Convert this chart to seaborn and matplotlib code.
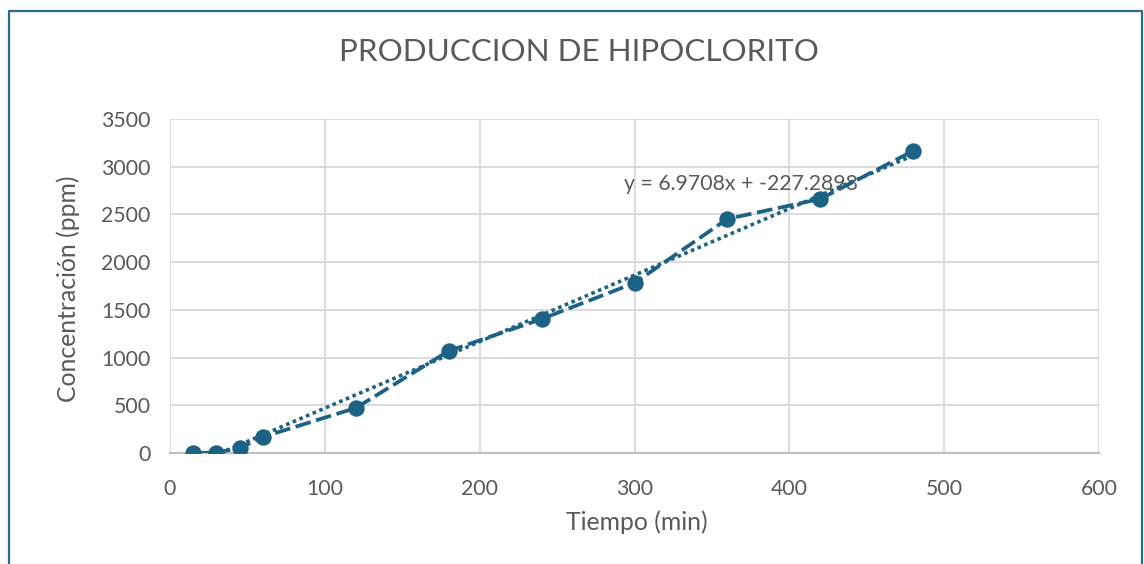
import matplotlib
matplotlib.use("Agg")
import matplotlib.pyplot as plt
import seaborn as sns
import numpy as np
import pandas as pd
from matplotlib.lines import Line2D

# Measured hypochlorite concentration over time
tiempo_min = [15, 30, 45, 60, 120, 180, 240, 300, 360, 420, 480]
concentracion_ppm = [0, 5, 52, 168, 472, 1069, 1404, 1782, 2453, 2662, 3166]

# Linear trendline coefficients
pendiente = 6.9708
intercepto = -227.2898
etiqueta_tendencia = "y = 6.9708x + -227.2898"

x_ticks = [0, 100, 200, 300, 400, 500, 600]
y_ticks = [0, 500, 1000, 1500, 2000, 2500, 3000, 3500]

color_serie = "#1b6284"
gris_texto = "#595959"
gris_grid = "#d9d9d9"

sns.set_theme(style="white")
plt.rcParams["font.family"] = ["Lato", "DejaVu Sans"]

fig = plt.figure(figsize=(11.44, 5.64), dpi=100)
ax = fig.add_axes([170 / 1144, 1 - 453 / 564, (1099 - 170) / 1144, (453 - 119) / 564])

df = pd.DataFrame({"Tiempo": tiempo_min, "Concentracion": concentracion_ppm})

# Trendline across the data range
x_tr = np.array([min(tiempo_min), max(tiempo_min)])
df_tr = pd.DataFrame({"x": x_tr, "y": pendiente * x_tr + intercepto})
sns.lineplot(data=df_tr, x="x", y="y", ax=ax, color=color_serie, lw=2.6,
             linestyle=(0, (1, 1)), zorder=3)

# Data series
sns.lineplot(data=df, x="Tiempo", y="Concentracion", ax=ax, color=color_serie,
             lw=2.7, linestyle=(0, (4.2, 1.5)), marker="o", markersize=11.8,
             markeredgewidth=0, zorder=4)

ax.set_xlim(0, 600)
ax.set_ylim(0, 3500)
ax.set_xticks(x_ticks)
ax.set_yticks(y_ticks)
ax.tick_params(axis="both", length=0, labelsize=15.3, labelcolor=gris_texto)
ax.tick_params(axis="x", pad=19)
ax.tick_params(axis="y", pad=14)
ax.grid(True, color=gris_grid, lw=1.3)
ax.set_axisbelow(True)
for s in ["top", "right", "left"]:
    ax.spines[s].set_visible(False)
ax.spines["bottom"].set_color("#bfbfbf")
ax.spines["bottom"].set_linewidth(1.5)
ax.set_xlabel("")
ax.set_ylabel("")

ax.text(444, 2820, etiqueta_tendencia, ha="right", va="center", fontsize=15.3,
        color=gris_texto, zorder=2)

fig.text(579 / 1144, 1 - 52 / 564, "PRODUCCION DE HIPOCLORITO", ha="center",
         va="center", fontsize=22.6, color=gris_texto)
fig.text(637 / 1144, 1 - 522 / 564, "Tiempo (min)", ha="center", va="center",
         fontsize=17.8, color=gris_texto)
fig.text(68 / 1144, 1 - 289 / 564, "Concentración (ppm)", ha="center", va="center",
         rotation=90, fontsize=17.8, color=gris_texto)

# Chart frame
borde = "#2a6a8e"
xl, xr, yt = 8.5 / 1144, 1141.5 / 1144, 1 - 11 / 564
fig.add_artist(Line2D([xl, xl, xr, xr], [-0.01, yt, yt, -0.01],
                      transform=fig.transFigure, color=borde, lw=1.6))

fig.savefig("out.png", dpi=100)
